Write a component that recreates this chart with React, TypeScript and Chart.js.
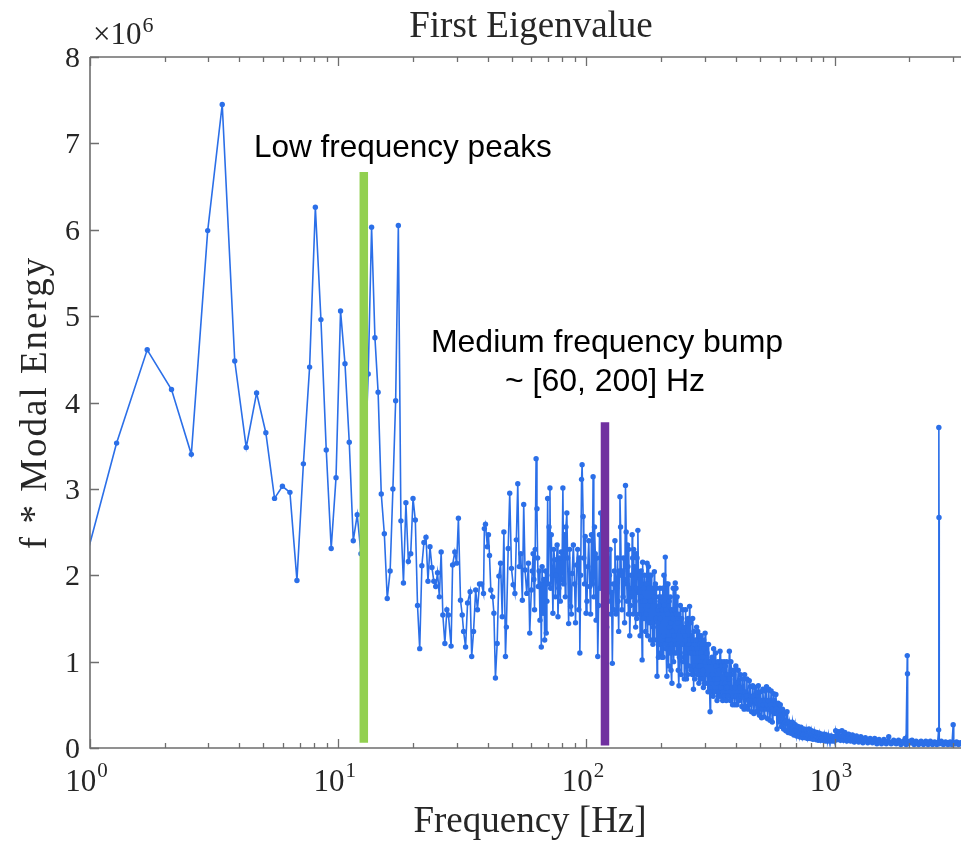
import React, { useEffect, useRef } from 'react';
import { Chart, registerables } from 'chart.js';

Chart.register(...registerables);

// ---------- axis settings ----------
const X_MIN = 1;
const X_MAX = 3230;
const Y_MIN = 0;
const Y_MAX = 8; // values are in units of 10^6
const yTickValues = [0, 1, 2, 3, 4, 5, 6, 7, 8];
const xMajorExponents = [0, 1, 2, 3];
const xMinorMultipliers = [2, 3, 4, 5, 6, 7, 8, 9];

// ---------- data: [frequency Hz, f * modal energy (x10^6)] ----------
const lowFreqPoints: [number, number][] = [
  [0.85, 1.61], [1.28, 3.53], [1.70, 4.61], [2.13, 4.15], [2.56, 3.40], [2.98, 5.99], [3.41, 7.45],
  [3.83, 4.48], [4.26, 3.48], [4.69, 4.11], [5.11, 3.65], [5.54, 2.89], [5.96, 3.03], [6.39, 2.96],
  [6.82, 1.94], [7.24, 3.29], [7.67, 4.41], [8.09, 6.26], [8.52, 4.96], [8.95, 3.45], [9.37, 2.31],
  [9.80, 3.13], [10.22, 5.06], [10.65, 4.45], [11.08, 3.54], [11.50, 2.40], [11.93, 2.70], [12.35, 2.25],
  [12.78, 3.20], [13.21, 4.33], [13.63, 6.03], [14.06, 4.75], [14.48, 4.12], [14.91, 2.94], [15.34, 2.48],
  [15.76, 1.73], [16.19, 2.05], [16.61, 3.00], [17.04, 4.02], [17.47, 6.05], [17.89, 2.63], [18.32, 1.91],
  [18.74, 2.84], [19.17, 2.16], [19.60, 2.25], [20.02, 2.89], [20.45, 2.64], [20.87, 1.65], [21.30, 1.15],
  [21.73, 2.11], [22.15, 2.38], [22.58, 2.44], [23.00, 1.93], [23.43, 2.33], [23.86, 2.09], [24.28, 1.93],
  [24.71, 1.87], [25.13, 2.03], [25.56, 1.75], [25.99, 2.27],
];

const midFreqPoints: [number, number][] = [
  [26.4, 1.54], [26.9, 1.21], [27.4, 1.60], [27.8, 1.54], [28.5, 1.18], [28.9, 2.12], [29.5, 2.27],
  [30.0, 2.14], [30.5, 2.66], [31.1, 1.71], [31.6, 1.54], [32.0, 1.35], [32.6, 1.17], [33.2, 1.68],
  [34.0, 1.81], [34.5, 1.06], [35.1, 1.35], [35.8, 1.83], [36.4, 1.60], [37.1, 1.90], [37.8, 1.90],
  [38.5, 1.79], [38.8, 2.54], [39.2, 2.59], [39.9, 2.33], [40.3, 2.47], [40.7, 2.23], [41.2, 1.83],
  [41.9, 1.75], [42.4, 1.56], [43.0, 0.81], [43.7, 1.21], [44.4, 1.99], [45.1, 2.14], [45.8, 1.52],
  [46.5, 2.50], [47.2, 1.06], [47.6, 1.40], [48.4, 2.31], [49.1, 2.95], [49.9, 2.08], [50.7, 1.89],
  [51.5, 1.79], [52.2, 2.41], [52.9, 3.06], [53.6, 2.10], [54.4, 2.25], [55.2, 1.71], [55.9, 2.82],
  [56.6, 2.06], [57.5, 1.79], [58.4, 2.14], [59.1, 1.33], [60.0, 1.83], [60.5, 2.05], [61.0, 2.25],
  [61.4, 1.95], [61.8, 1.60], [62.2, 2.30], [62.7, 3.35], [63.2, 2.77], [63.6, 2.20], [64.0, 1.87],
  [64.5, 2.05], [65.0, 1.48], [65.4, 1.90], [65.8, 1.17], [66.3, 2.10], [66.9, 1.56], [67.4, 1.95],
  [67.9, 1.25], [68.4, 2.05], [68.9, 1.33], [69.3, 1.70], [69.8, 2.89], [70.2, 1.90], [70.7, 2.56],
  [71.3, 3.01], [71.8, 1.85], [72.2, 2.47], [72.8, 2.00], [73.3, 1.56], [73.9, 2.30], [74.5, 2.18],
  [75.0, 1.75], [75.6, 2.00], [76.2, 2.35], [76.8, 1.52], [77.4, 1.85], [78.0, 2.20], [78.5, 1.70],
  [79.1, 2.27], [79.7, 1.95], [80.4, 3.01], [81.0, 1.90], [81.7, 2.47], [82.2, 1.75], [82.7, 2.56],
  [83.4, 2.72], [84.0, 2.20], [84.8, 1.44], [85.6, 2.30], [86.4, 1.64], [87.0, 1.55], [87.6, 2.02],
  [88.6, 2.35], [89.6, 1.90], [90.4, 1.45], [91.3, 2.12], [92.2, 2.30], [93.2, 1.60], [93.6, 2.20],
  [94.1, 1.10], [94.8, 2.00], [95.6, 3.11], [96.1, 3.28], [97.0, 2.68], [97.6, 2.20], [98.3, 1.90],
  [98.9, 2.45], [99.7, 1.56], [100.5, 1.70], [101.3, 2.10], [102.2, 2.40], [103.2, 1.87], [104.0, 1.55],
  [104.8, 2.47], [105.6, 1.90], [106.4, 3.14], [107.1, 1.75], [107.8, 2.56], [108.6, 2.25], [109.4, 1.48],
  [110.2, 2.20], [111.1, 1.06], [112.0, 1.65], [112.9, 2.47], [113.5, 1.85], [114.2, 2.72],
];

const bumpPoints: [number, number][] = [
  [116, 1.95], [117.5, 1.45], [118.5, 2.30], [120, 1.60], [121.5, 2.20], [123, 1.70], [124.5, 2.30],
  [125.5, 1.55], [127.2, 0.98], [128.4, 1.90], [129.5, 2.05], [130.3, 2.40], [131.6, 1.55], [133.5, 2.20],
  [134.9, 1.35], [136.5, 2.91], [137.3, 2.56], [139, 1.60], [140, 2.05], [141, 2.20], [142.5, 1.45],
  [143.7, 3.04], [144.6, 2.50], [146, 1.70], [147, 2.10], [148.1, 2.30], [149.5, 1.30], [151.5, 2.00],
  [152.9, 2.47], [154.3, 1.55], [155.4, 1.95], [156.4, 2.10], [157.9, 1.40], [159, 1.85], [160, 2.20],
  [161.2, 2.52], [162.4, 1.80], [163.5, 2.00], [164.6, 1.30], [166.1, 2.05], [167.7, 1.02], [169.2, 1.70],
  [170.5, 1.50], [171.6, 2.00], [173.2, 1.35], [174.5, 1.90], [175.6, 2.14], [177.2, 1.65], [178.5, 1.85],
  [179.8, 2.00], [181.4, 1.25], [183, 1.70], [184.5, 1.85], [186, 1.40], [187.8, 2.04], [189, 1.70],
  [190.3, 1.50], [192.6, 0.83], [194.4, 1.60], [195.8, 1.75], [197.1, 1.20], [198.5, 1.50], [199.9, 1.75],
];

const bumpFillPoints: [number, number][] = [
  [116.8, 2.10], [119.2, 1.90], [120.8, 1.40], [122.2, 1.95], [123.8, 2.00], [126.3, 1.80], [128.9, 1.60],
  [132.5, 1.85], [134.2, 1.70], [135.7, 2.05], [138.2, 2.00], [140.5, 1.75], [141.8, 1.90], [145.3, 1.95],
  [146.5, 2.35], [147.6, 1.55], [148.8, 1.85], [150.5, 1.65], [152.2, 1.75], [153.6, 2.20], [155, 2.30],
  [157.1, 1.70], [158.5, 2.25], [159.5, 1.50], [163, 1.55], [165.3, 1.75], [166.9, 1.60], [168.5, 2.15],
  [170, 1.85], [172.4, 1.70], [174, 1.55], [176.4, 1.30], [177.9, 2.10], [179.1, 1.45], [180.6, 1.70],
  [182.2, 2.00], [183.7, 1.45], [185.3, 1.20], [187, 1.75], [188.4, 1.25], [189.7, 1.90], [191.4, 1.85],
  [193.5, 1.45], [195.1, 1.05], [196.5, 1.65], [197.8, 1.85], [199.2, 1.10],
];

const rollOffPoints: [number, number][] = [
  [201.5, 1.05], [203, 1.85], [204.5, 1.30], [206, 1.65], [207.9, 2.21], [209.5, 1.15], [211, 0.83],
  [212.5, 1.55], [214, 1.25], [215.5, 1.70], [217, 1.10], [218.5, 1.45], [220, 1.20], [221.2, 0.75],
  [223, 1.50], [224.5, 1.00], [226, 1.60], [228, 1.91], [229.5, 1.85], [231, 1.10], [233, 1.45],
  [234.5, 0.90], [236, 0.72], [238, 1.35], [240, 1.05], [242, 1.50], [244.8, 1.60], [246.5, 1.00],
  [248, 0.80], [250, 1.30], [252, 1.05], [254, 1.45], [256, 0.85], [258, 1.20], [260.4, 1.64],
  [262, 1.10], [264, 0.90], [266, 1.30], [268, 1.50], [270, 0.68], [272, 1.15], [274, 0.95],
  [276, 1.25], [278, 1.40], [280, 0.85], [282, 1.10], [284, 0.75], [286, 1.20], [288, 0.95],
  [290, 1.30], [292, 0.80], [294, 1.05], [296, 0.70], [298, 1.15], [300.8, 1.33], [303, 0.75],
  [306, 1.10], [309, 0.65], [312, 1.00], [315, 0.42], [318, 0.80], [321, 1.05], [324, 0.60],
  [327, 1.00], [330, 0.65], [333, 0.95], [336, 0.55], [339, 1.00], [342, 0.65], [345.4, 1.12],
  [348, 0.70], [351, 0.95], [354, 0.55], [357, 0.90], [360, 0.60], [363, 0.95], [366, 0.55],
  [369, 0.85], [372, 0.60], [376.7, 1.12], [380, 0.55], [384, 0.90], [388, 0.50], [392, 0.85],
  [396, 0.50], [400, 0.95], [404, 0.50], [409, 0.90], [413, 0.55], [418, 0.85], [423, 0.48],
  [430, 0.59], [434, 0.85], [438, 0.48], [443, 0.80], [448, 0.45], [453, 0.78], [458, 0.71],
  [463, 0.42], [468, 0.72], [473, 0.40], [478, 0.70], [483, 0.42], [488, 0.52], [493, 0.72],
  [498, 0.38], [503, 0.65], [508, 0.35], [514, 0.68], [520, 0.36], [526, 0.66], [531.6, 0.71],
  [537, 0.34], [543, 0.68], [549, 0.32], [555, 0.66], [561, 0.30], [568, 0.63], [574, 0.40],
  [580, 0.62], [586, 0.22], [592, 0.52], [598, 0.30], [604, 0.50], [610, 0.25], [617, 0.45],
  [623, 0.22], [629.2, 0.40], [636, 0.20], [643, 0.42], [650, 0.18], [658.9, 0.30], [667, 0.17],
  [676, 0.30], [685, 0.15], [694, 0.27], [703, 0.14], [712, 0.25], [722, 0.13], [732, 0.24],
  [742, 0.12], [752, 0.22], [762, 0.12], [768.8, 0.21], [778, 0.11], [788, 0.22], [798, 0.11],
  [808, 0.20], [818, 0.10], [828, 0.19], [838, 0.10], [848, 0.18], [858, 0.09], [868, 0.17],
  [878, 0.09], [888, 0.16], [898, 0.09], [908, 0.16], [918, 0.08], [928, 0.15], [938, 0.08],
  [948, 0.14], [958, 0.08], [968, 0.14], [978, 0.08], [988, 0.13], [998, 0.08],
];

const rollOffFillPoints: [number, number][] = [
  [202.2, 1.60], [203.8, 1.05], [205.2, 2.00], [207, 1.20], [208.7, 1.60], [210.3, 1.90], [211.8, 1.25],
  [213.2, 1.90], [214.8, 0.95], [216.2, 1.40], [217.8, 1.75], [219.2, 0.90], [220.6, 1.60], [222, 1.35],
  [223.8, 1.85], [225.2, 1.30], [227, 1.10], [228.7, 1.20], [230.2, 1.55], [232, 1.75], [233.8, 1.20],
  [235.2, 1.55], [237, 1.05], [239, 1.65], [241, 0.85], [243.4, 1.20], [245.6, 1.35], [247.2, 1.40],
  [249, 1.10], [251, 1.60], [253, 0.80], [255, 1.20], [257, 1.50], [259, 0.95], [261.2, 1.25],
  [263, 1.45], [265, 1.10], [267, 0.85], [269, 1.25], [271, 1.35], [273, 0.80], [275, 1.10],
  [277, 0.90], [279, 1.15], [281, 1.35], [283, 0.95], [285, 1.30], [287, 0.80], [289, 1.10],
  [291, 1.05], [293, 1.20], [295, 0.90], [297, 1.25], [299, 0.75], [301.9, 1.00], [304.5, 1.20],
  [307.5, 0.85], [310.5, 1.20], [313.5, 0.70], [316.5, 1.00], [319.5, 0.65], [322.5, 0.85], [325.5, 1.15],
  [328.5, 0.80], [331.5, 1.10], [334.5, 0.75], [337.5, 0.80], [340.5, 0.60], [343.7, 0.90], [346.7, 0.60],
  [349.5, 1.00], [352.5, 0.75], [355.5, 0.65], [358.5, 1.00], [361.5, 0.75], [364.5, 0.70], [367.5, 1.00],
  [370.5, 0.70], [374.3, 0.80], [378.3, 0.80], [382, 1.00], [386, 0.70], [390, 0.60], [394, 0.90],
  [398, 0.70], [402, 0.60], [406.5, 0.75], [411, 0.60], [415.5, 0.70], [420.5, 0.60], [426.5, 0.80],
  [432, 0.45], [436, 0.65], [440.5, 0.60], [445.5, 0.60], [450.5, 0.55], [455.5, 0.50], [460.5, 0.60],
  [465.5, 0.55], [470.5, 0.60], [475.5, 0.55], [480.5, 0.55], [485.5, 0.65], [490.5, 0.42], [495.5, 0.55],
  [500.5, 0.50], [505.5, 0.55], [511, 0.45], [517, 0.50], [523, 0.55], [529, 0.45], [534.3, 0.50],
  [540, 0.55], [546, 0.45], [552, 0.50], [558, 0.45], [564.5, 0.42], [571, 0.55], [577, 0.50],
  [583, 0.45], [589, 0.40], [595, 0.42], [601, 0.38], [607, 0.33], [613.5, 0.35], [620, 0.38],
  [626, 0.28], [632.6, 0.30], [639.5, 0.32], [646.5, 0.28], [654.5, 0.22], [663, 0.25], [671.5, 0.22],
  [680.5, 0.22], [689.5, 0.20], [698.5, 0.20], [707, 0.20], [717, 0.19], [727, 0.18], [737, 0.17],
  [747, 0.16], [757, 0.17], [765, 0.15], [773, 0.16], [783, 0.15], [793, 0.16], [803, 0.14],
  [813, 0.15], [823, 0.14], [833, 0.13], [843, 0.14], [853, 0.13], [863, 0.12], [873, 0.13],
  [883, 0.12], [893, 0.12], [903, 0.12], [913, 0.11], [923, 0.11], [933, 0.12], [943, 0.11],
  [953, 0.11], [963, 0.11], [973, 0.10], [983, 0.11], [993, 0.10],
];

const tailPoints: [number, number][] = [
  [1010, 0.20], [1025, 0.10], [1040, 0.19], [1055, 0.09], [1070, 0.20], [1085, 0.09], [1100, 0.18],
  [1120, 0.08], [1140, 0.16], [1160, 0.08], [1180, 0.15], [1200, 0.07], [1225, 0.14], [1250, 0.07],
  [1275, 0.13], [1300, 0.06], [1330, 0.12], [1360, 0.06], [1390, 0.11], [1420, 0.06], [1450, 0.11],
  [1480, 0.05], [1510, 0.10], [1545, 0.05], [1580, 0.10], [1615, 0.05], [1652, 0.13], [1690, 0.05],
  [1730, 0.09], [1770, 0.05], [1810, 0.09], [1850, 0.04], [1890, 0.08], [1925, 0.11], [1940, 0.04],
  [1962, 1.07], [1966, 0.86], [1972, 0.05], [2010, 0.08], [2050, 0.09], [2090, 0.04], [2130, 0.08],
  [2180, 0.04], [2230, 0.08], [2280, 0.04], [2330, 0.08], [2380, 0.04], [2430, 0.08], [2480, 0.04],
  [2530, 0.07], [2580, 0.04], [2625, 0.21], [2630, 3.71], [2634, 2.67], [2640, 0.05], [2690, 0.08],
  [2740, 0.04], [2800, 0.07], [2860, 0.04], [2920, 0.07], [2970, 0.04], [3004, 0.27], [3040, 0.05],
  [3100, 0.07], [3160, 0.04], [3220, 0.06], [3280, 0.04],
];

const tailFillPoints: [number, number][] = [
  [1017, 0.14], [1032, 0.15], [1047, 0.12], [1062, 0.14], [1077, 0.13], [1092, 0.14], [1110, 0.12],
  [1130, 0.13], [1150, 0.11], [1170, 0.12], [1190, 0.11], [1212, 0.11], [1237, 0.10], [1262, 0.10],
  [1287, 0.09], [1315, 0.09], [1345, 0.09], [1375, 0.08], [1405, 0.08], [1435, 0.08], [1465, 0.08],
  [1495, 0.07], [1527, 0.07], [1562, 0.07], [1597, 0.07], [1633, 0.08], [1671, 0.07], [1710, 0.06],
  [1750, 0.07], [1790, 0.06], [1830, 0.06], [1870, 0.06], [1908, 0.06], [1990, 0.06], [2030, 0.06],
  [2070, 0.06], [2110, 0.06], [2155, 0.06], [2205, 0.06], [2255, 0.06], [2305, 0.06], [2355, 0.06],
  [2405, 0.06], [2455, 0.06], [2505, 0.06], [2555, 0.06], [2600, 0.06], [2665, 0.06], [2715, 0.06],
  [2770, 0.05], [2830, 0.06], [2890, 0.05], [2945, 0.06], [3020, 0.06], [3070, 0.05], [3130, 0.06],
  [3190, 0.05], [3250, 0.06],
];

// ---------- highlight markers ----------
const markerFreqs = [12.68, 118.8];
const markerBottoms = [0.06, 0.03];
const markerTops = [6.67, 3.77];
const markerColors = ['#92D050', '#7030A0'];

// ---------- text ----------
const titleText = 'First Eigenvalue';
const xLabelText = 'Frequency [Hz]';
const yLabelText = 'f * Modal Energy';
const lowNote = 'Low frequency peaks';
const midNoteLines = ['Medium frequency bump', '~ [60, 200] Hz'];

const SERIF = '"Liberation Serif", "DejaVu Serif", serif';
const SANS = '"Liberation Sans", Arial, sans-serif';
const LINE_BLUE = '#2b6fe8';
const AXIS_GREY = '#6e6e6e';
const TEXT_DARK = '#262626';

function drawPower(ctx: CanvasRenderingContext2D, base: string, exp: string, left: number | null, center: number | null, baseline: number, baseSize: number, expSize: number, rise: number) {
  ctx.font = `${baseSize}px ${SERIF}`;
  const wb = ctx.measureText(base).width;
  ctx.font = `${expSize}px ${SERIF}`;
  const we = ctx.measureText(exp).width;
  const start = left !== null ? left : (center as number) - (wb + we) / 2;
  ctx.textAlign = 'left';
  ctx.textBaseline = 'alphabetic';
  ctx.font = `${baseSize}px ${SERIF}`;
  ctx.fillText(base, start, baseline);
  ctx.font = `${expSize}px ${SERIF}`;
  ctx.fillText(exp, start + wb + 1, baseline - rise);
}

const axesPlugin = {
  id: 'matlabAxes',
  afterDraw(chart: any) {
    const { ctx, chartArea: a, scales } = chart;
    const xs = scales.x;
    const ys = scales.y;
    ctx.save();

    // axis lines (box: left, bottom, top)
    ctx.strokeStyle = AXIS_GREY;
    ctx.lineWidth = 1.6;
    ctx.beginPath();
    ctx.moveTo(a.left, a.top);
    ctx.lineTo(a.left, a.bottom);
    ctx.lineTo(a.right, a.bottom);
    ctx.moveTo(a.left, a.top);
    ctx.lineTo(a.right, a.top);
    ctx.stroke();

    // y ticks (inward)
    ctx.lineWidth = 1.3;
    ctx.beginPath();
    yTickValues.forEach((v) => {
      const py = Math.round(ys.getPixelForValue(v)) + 0.5;
      ctx.moveTo(a.left, py);
      ctx.lineTo(a.left + 9, py);
    });
    ctx.stroke();

    // x ticks (inward, bottom and top)
    ctx.beginPath();
    xMajorExponents.forEach((e) => {
      const val = Math.pow(10, e);
      if (val < X_MIN || val > X_MAX) return;
      const px = Math.round(xs.getPixelForValue(val)) + 0.5;
      ctx.moveTo(px, a.bottom);
      ctx.lineTo(px, a.bottom - 9);
      ctx.moveTo(px, a.top);
      ctx.lineTo(px, a.top + 9);
      xMinorMultipliers.forEach((m) => {
        const mv = m * val;
        if (mv > X_MAX) return;
        const mx = Math.round(xs.getPixelForValue(mv)) + 0.5;
        ctx.moveTo(mx, a.bottom);
        ctx.lineTo(mx, a.bottom - 5);
        ctx.moveTo(mx, a.top);
        ctx.lineTo(mx, a.top + 5);
      });
    });
    ctx.stroke();

    // y tick labels
    ctx.fillStyle = TEXT_DARK;
    ctx.font = `30px ${SERIF}`;
    ctx.textAlign = 'right';
    ctx.textBaseline = 'alphabetic';
    yTickValues.forEach((v) => {
      const py = ys.getPixelForValue(v);
      ctx.fillText(String(v), a.left - 10, py + 10);
    });

    // x tick labels 10^n
    xMajorExponents.forEach((e) => {
      const val = Math.pow(10, e);
      if (val > X_MAX) return;
      const px = xs.getPixelForValue(val);
      drawPower(ctx, '10', String(e), null, px - 4, a.bottom + 43, 31, 21, 14);
    });

    // exponent multiplier
    drawPower(ctx, '\u00d710', '6', a.left + 3, null, a.top - 13, 31, 22, 12);

    // title
    ctx.font = `37px ${SERIF}`;
    ctx.textAlign = 'center';
    ctx.textBaseline = 'alphabetic';
    ctx.fillText(titleText, 531, 37);

    // x label
    ctx.fillText(xLabelText, 530, 832);

    // y label
    ctx.save();
    ctx.translate(46, (a.top + a.bottom) / 2);
    ctx.rotate(-Math.PI / 2);
    (ctx as any).letterSpacing = '2px';
    ctx.fillText(yLabelText, 0, 0);
    ctx.restore();

    // annotations
    ctx.fillStyle = '#000000';
    ctx.font = `31.5px ${SANS}`;
    ctx.textAlign = 'left';
    ctx.fillText(lowNote, 254, 157);
    ctx.font = `32px ${SANS}`;
    ctx.textAlign = 'center';
    ctx.fillText(midNoteLines[0], 607, 352);
    ctx.fillText(midNoteLines[1], 605, 391);

    ctx.restore();
  },
};

export default function App() {
  const canvasRef = useRef<HTMLCanvasElement | null>(null);

  useEffect(() => {
    const canvas = canvasRef.current;
    if (!canvas) return;

    const series = [
      ...lowFreqPoints, ...midFreqPoints, ...bumpPoints, ...bumpFillPoints,
      ...rollOffPoints, ...rollOffFillPoints, ...tailPoints, ...tailFillPoints,
    ]
      .slice()
      .sort((p, q) => p[0] - q[0])
      .map(([f, e]) => ({ x: f, y: e }));

    const markerSets = markerFreqs.map((f, i) => ({
      type: 'line' as const,
      data: [{ x: f, y: markerBottoms[i] }, { x: f, y: markerTops[i] }],
      borderColor: markerColors[i],
      backgroundColor: markerColors[i],
      borderWidth: 8.5,
      borderCapStyle: 'butt' as const,
      pointRadius: 0,
      fill: false,
      order: 0,
    }));

    const chart = new Chart(canvas, {
      type: 'line',
      data: {
        datasets: [
          ...markerSets,
          {
            data: series,
            borderColor: LINE_BLUE,
            backgroundColor: LINE_BLUE,
            borderWidth: 1.6,
            pointRadius: 2.7,
            pointBorderWidth: 0,
            pointBackgroundColor: LINE_BLUE,
            fill: false,
            tension: 0,
            order: 1,
          },
        ],
      } as any,
      options: {
        responsive: false,
        animation: false,
        devicePixelRatio: 1,
        layout: { padding: { left: 90, top: 57, right: 0, bottom: 94 } },
        plugins: {
          legend: { display: false },
          tooltip: { enabled: false },
          title: { display: false },
        },
        scales: {
          x: { type: 'logarithmic', min: X_MIN, max: X_MAX, display: false },
          y: { type: 'linear', min: Y_MIN, max: Y_MAX, display: false },
        },
      },
      plugins: [axesPlugin],
    });

    return () => chart.destroy();
  }, []);

  return (
    <div style={{ position: 'absolute', left: 0, top: 0, width: 965, height: 842, background: '#ffffff' }}>
      <canvas ref={canvasRef} width={965} height={842} style={{ display: 'block' }} />
    </div>
  );
}
